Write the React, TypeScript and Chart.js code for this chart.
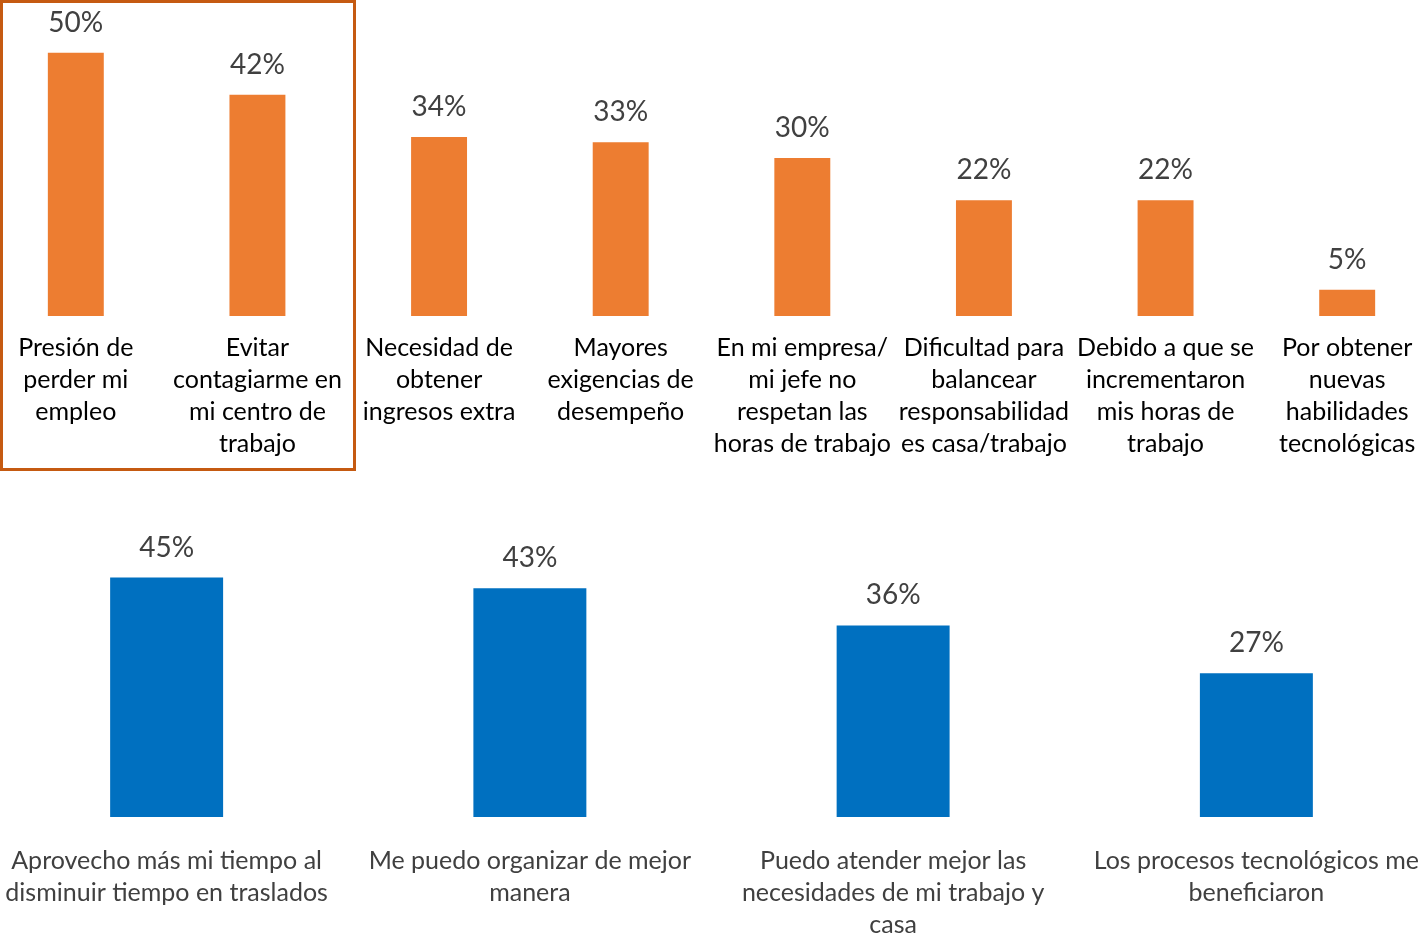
import React, { useEffect, useRef } from "react";
import { Chart, registerables } from "chart.js";

Chart.register(...registerables);

const topCategories: string[][] = [
  ["Presión de", "perder mi", "empleo"],
  ["Evitar", "contagiarme en", "mi centro de", "trabajo"],
  ["Necesidad de", "obtener", "ingresos extra"],
  ["Mayores", "exigencias de", "desempeño"],
  ["En mi empresa/", "mi jefe no", "respetan las", "horas de trabajo"],
  ["Dificultad para", "balancear", "responsabilidad", "es casa/trabajo"],
  ["Debido a que se", "incrementaron", "mis horas de", "trabajo"],
  ["Por obtener", "nuevas", "habilidades", "tecnológicas"],
];
const topValues: number[] = [50, 42, 34, 33, 30, 22, 22, 5];

const bottomCategories: string[][] = [
  ["Aprovecho más mi tiempo al", "disminuir tiempo en traslados"],
  ["Me puedo organizar de mejor", "manera"],
  ["Puedo atender mejor las", "necesidades de mi trabajo y", "casa"],
  ["Los procesos tecnológicos me", "beneficiaron"],
];
const bottomValues: number[] = [45, 43, 36, 27];

const FONT = "Lato, 'Open Sans', sans-serif";

const valueLabelPlugin = {
  id: "valueLabels",
  afterDatasetsDraw(chart: any) {
    const ctx = chart.ctx;
    ctx.save();
    ctx.font = `28px ${FONT}`;
    ctx.fillStyle = "#404040";
    ctx.textAlign = "center";
    ctx.textBaseline = "alphabetic";
    chart.data.datasets.forEach((ds: any, di: number) => {
      const meta = chart.getDatasetMeta(di);
      meta.data.forEach((bar: any, i: number) => {
        ctx.fillText(`${ds.data[i]}%`, bar.x, bar.y - 21);
      });
    });
    ctx.restore();
  },
};

type Props = {
  labels: string[][];
  values: number[];
  color: string;
  labelColor: string;
  yMax: number;
  axisHeight: number;
  tickPadding: number;
  catPct: number;
  width: number;
  height: number;
  style: React.CSSProperties;
};

function BarChart(p: Props) {
  const ref = useRef<HTMLCanvasElement | null>(null);
  useEffect(() => {
    if (!ref.current) return;
    const chart = new Chart(ref.current, {
      type: "bar",
      data: {
        labels: p.labels,
        datasets: [
          {
            data: p.values,
            backgroundColor: p.color,
            borderWidth: 0,
            barPercentage: 1,
            categoryPercentage: p.catPct,
          },
        ],
      },
      options: {
        responsive: false,
        animation: false,
        devicePixelRatio: 1,
        layout: { padding: 0 },
        plugins: {
          legend: { display: false },
          tooltip: { enabled: false },
          title: { display: false },
        },
        scales: {
          x: {
            grid: { display: false, drawTicks: false },
            border: { display: false },
            ticks: {
              color: p.labelColor,
              padding: p.tickPadding,
              maxRotation: 0,
              minRotation: 0,
              autoSkip: false,
              font: { family: FONT, size: 25, lineHeight: "32px" as any },
            },
            afterFit: (scale: any) => {
              scale.height = p.axisHeight;
              scale.paddingLeft = 0;
              scale.paddingRight = 0;
            },
          },
          y: {
            display: false,
            min: 0,
            max: p.yMax,
          },
        },
      },
      plugins: [valueLabelPlugin],
    });
    return () => chart.destroy();
  }, []);
  return <canvas ref={ref} width={p.width} height={p.height} style={p.style} />;
}

export default function App() {
  return (
    <div
      style={{
        position: "fixed",
        left: 0,
        top: 0,
        width: 1420,
        height: 938,
        overflow: "hidden",
        background: "#ffffff",
      }}
    >
      <BarChart
        labels={topCategories}
        values={topValues}
        color="#ED7D31"
        labelColor="#000000"
        yMax={60}
        axisHeight={154}
        tickPadding={16}
        catPct={0.308}
        width={1453}
        height={470}
        style={{ position: "absolute", left: -15, top: 0, width: 1453, height: 470 }}
      />
      <BarChart
        labels={bottomCategories}
        values={bottomValues}
        color="#0070C0"
        labelColor="#404040"
        yMax={65.2}
        axisHeight={121}
        tickPadding={28}
        catPct={0.311}
        width={1453}
        height={468}
        style={{ position: "absolute", left: -15, top: 470, width: 1453, height: 468 }}
      />
      <div
        style={{
          position: "absolute",
          left: 0,
          top: 0,
          width: 356,
          height: 471,
          boxSizing: "border-box",
          border: "3px solid #C55A11",
          pointerEvents: "none",
        }}
      />
    </div>
  );
}
